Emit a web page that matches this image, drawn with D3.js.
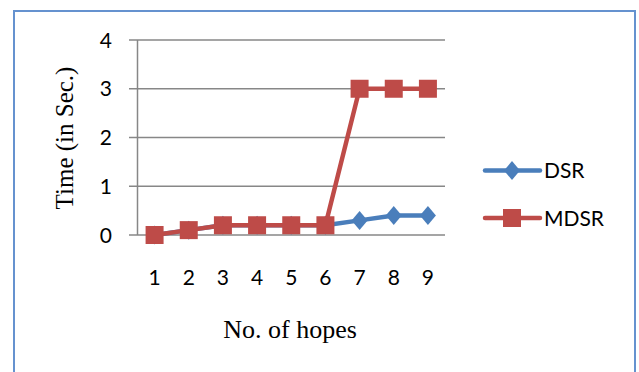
<!DOCTYPE html>
<html>
<head>
<meta charset="utf-8">
<script src="https://cdn.jsdelivr.net/npm/d3@7"></script>
<style>
  body { margin: 0; background: #fff; }
</style>
</head>
<body>
<div id="chart"></div>
<script>
// chart data
const hops = ["1", "2", "3", "4", "5", "6", "7", "8", "9"];
const dsr = [0, 0.1, 0.2, 0.2, 0.2, 0.2, 0.3, 0.4, 0.4];
const mdsr = [0, 0.1, 0.2, 0.2, 0.2, 0.2, 3, 3, 3];
const yTicks = [0, 1, 2, 3, 4];
const seriesNames = ["DSR", "MDSR"];
const seriesColors = ["#4a7ebb", "#be4b48"];

const W = 639, H = 372;

const svg = d3.select("#chart")
  .append("svg")
    .attr("width", W)
    .attr("height", H);

// outer blue frame
svg.append("rect")
  .attr("x", 14)
  .attr("y", 11)
  .attr("width", 621)
  .attr("height", 380)
  .attr("fill", "none")
  .attr("stroke", "#6592cf")
  .attr("stroke-width", 2);

// scales
const x = d3.scaleBand()
  .domain(hops)
  .range([137.5, 445]);

const y = d3.scaleLinear()
  .domain([0, 4])
  .range([235, 40]);

// gridlines + y ticks
svg.append("g")
  .selectAll("line")
  .data(yTicks)
  .join("line")
    .attr("x1", 129)
    .attr("x2", 445)
    .attr("y1", d => y(d))
    .attr("y2", d => y(d))
    .attr("stroke", "#878787")
    .attr("stroke-width", 1.5);

// y axis line
svg.append("line")
  .attr("x1", 137.5)
  .attr("x2", 137.5)
  .attr("y1", y(4))
  .attr("y2", y(0))
  .attr("stroke", "#878787")
  .attr("stroke-width", 1.5);

svg.append("g")
  .selectAll("text")
  .data(yTicks)
  .join("text")
    .attr("x", 112)
    .attr("y", d => y(d))
    .attr("dy", "0.36em")
    .attr("text-anchor", "end")
    .style("font-family", "Lato, sans-serif")
    .style("font-size", "21px")
    .style("fill", "#000")
    .text(d => d);

// x tick labels
svg.append("g")
  .selectAll("text")
  .data(hops)
  .join("text")
    .attr("x", d => x(d) + x.bandwidth() / 2)
    .attr("y", 285)
    .attr("text-anchor", "middle")
    .style("font-family", "Lato, sans-serif")
    .style("font-size", "21px")
    .style("fill", "#000")
    .text(d => d);

// lines
const line = d3.line()
  .x((d, i) => x(hops[i]) + x.bandwidth() / 2)
  .y(d => y(d));

const diamond = "M0,-9.5L8,0L0,9.5L-8,0Z";

[dsr, mdsr].forEach((vals, k) => {
  const g = svg.append("g");
  g.append("path")
    .datum(vals)
    .attr("fill", "none")
    .attr("stroke", seriesColors[k])
    .attr("stroke-width", 4.5)
    .attr("stroke-linejoin", "round")
    .attr("d", line);

  if (k === 0) {
    g.selectAll("path.mk")
      .data(vals)
      .join("path")
        .attr("class", "mk")
        .attr("transform", (d, i) => `translate(${x(hops[i]) + x.bandwidth() / 2},${y(d)})`)
        .attr("d", diamond)
        .attr("fill", seriesColors[k]);
  } else {
    g.selectAll("rect")
      .data(vals)
      .join("rect")
        .attr("x", (d, i) => x(hops[i]) + x.bandwidth() / 2 - 9)
        .attr("y", d => y(d) - 9)
        .attr("width", 18)
        .attr("height", 18)
        .attr("fill", seriesColors[k]);
  }
});

// legend
const legend = svg.append("g");
seriesNames.forEach((name, k) => {
  const ly = 170.5 + k * 47.5;
  legend.append("line")
    .attr("x1", 485)
    .attr("x2", 540)
    .attr("y1", ly)
    .attr("y2", ly)
    .attr("stroke", seriesColors[k])
    .attr("stroke-width", 4.5)
    .attr("stroke-linecap", "round");
  if (k === 0) {
    legend.append("path")
      .attr("transform", `translate(512,${ly})`)
      .attr("d", diamond)
      .attr("fill", seriesColors[k]);
  } else {
    legend.append("rect")
      .attr("x", 503)
      .attr("y", ly - 9)
      .attr("width", 18)
      .attr("height", 18)
      .attr("fill", seriesColors[k]);
  }
  legend.append("text")
    .attr("x", 544)
    .attr("y", ly)
    .attr("dy", "0.36em")
    .style("font-family", "Lato, sans-serif")
    .style("font-size", "21px")
    .style("fill", "#000")
    .text(name);
});

// axis titles
svg.append("text")
  .attr("transform", "translate(73,138) rotate(-90)")
  .attr("text-anchor", "middle")
  .style("font-family", "'Liberation Serif', 'Times New Roman', serif")
  .style("font-size", "25px")
  .style("fill", "#000")
  .text("Time (in Sec.)");

svg.append("text")
  .attr("x", 290)
  .attr("y", 338)
  .attr("text-anchor", "middle")
  .style("font-family", "'Liberation Serif', 'Times New Roman', serif")
  .style("font-size", "26px")
  .style("fill", "#000")
  .text("No. of hopes");
</script>
</body>
</html>
